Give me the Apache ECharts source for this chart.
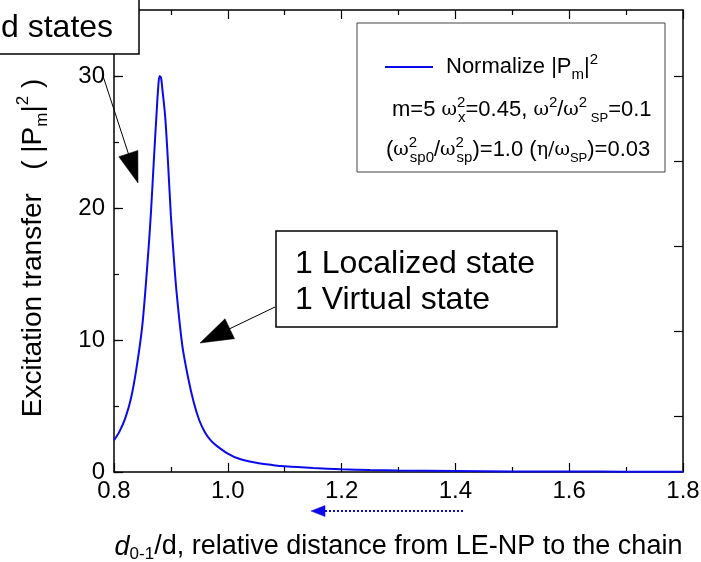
<!DOCTYPE html>
<html>
<head>
<meta charset="utf-8">
<script src="https://cdn.jsdelivr.net/npm/echarts@6/dist/echarts.min.js"></script>
<style>
html,body{margin:0;padding:0;background:#fff;}
#chart{width:701px;height:562px;}
</style>
</head>
<body>
<div id="chart"></div>
<script>
// ---- data ----
const xValues = [0.80,0.81,0.82,0.83,0.84,0.85,0.86,0.865,0.87,0.875,0.8775,0.88,0.8825,0.885,0.89,0.895,0.90,0.905,0.91,0.92,0.93,0.94,0.95,0.96,0.97,0.98,1.00,1.02,1.05,1.08,1.10,1.15,1.20,1.25,1.30,1.40,1.50,1.60,1.70,1.80];
const pmValues = [2.4,3.1,4.1,5.6,8.0,11.2,16.5,19.7,23.6,27.3,29.0,30.0,29.9,29.0,26.9,23.4,19.4,16.3,13.6,9.6,7.2,5.3,3.9,3.0,2.4,2.0,1.4,1.0,0.7,0.52,0.43,0.3,0.21,0.15,0.11,0.07,0.045,0.035,0.028,0.022];
const xTickLabels = ['0.8','1.0','1.2','1.4','1.6','1.8'];
const yTickValues = [0, 10, 20, 30];
const rightTickValues = [4.2, 10.65, 17.1, 23.55, 30];
const seriesName = 'Normalize |Pm|2';

const FONT = '"Liberation Sans", Arial, sans-serif';
const BLUE = '#0b0bea';
const chart = echarts.init(document.getElementById('chart'), null, {renderer: 'canvas'});

const seriesData = xValues.map((x, i) => [x, pmValues[i]]);

function arrow(x1, y1, x2, y2, headLen, headW, color, dashed, lw) {
  const dx = x2 - x1, dy = y2 - y1, L = Math.hypot(dx, dy);
  const ux = dx / L, uy = dy / L, px = -uy, py = ux;
  const bx = x2 - ux * headLen, by = y2 - uy * headLen;
  return [
    {type: 'line', z: 50, shape: {x1: x1, y1: y1, x2: bx + ux * 2, y2: by + uy * 2},
     style: {stroke: color, lineWidth: lw || 1, lineDash: dashed ? [2, 2] : null}},
    {type: 'polygon', z: 50, shape: {points: [[x2, y2], [bx + px * headW / 2, by + py * headW / 2], [bx - px * headW / 2, by - py * headW / 2]]},
     style: {fill: color, stroke: color, lineWidth: 0.5}}
  ];
}

const legRich = {
  t: {fontFamily: FONT, fontSize: 22, color: '#000', lineHeight: 30},
  w: {fontFamily: '"DejaVu Serif", serif', fontSize: 19, color: '#000', lineHeight: 30},
  sup: {fontFamily: FONT, fontSize: 15, color: '#000', verticalAlign: 'top', lineHeight: 16, width: 1},
  sup2: {fontFamily: FONT, fontSize: 15, color: '#000', verticalAlign: 'top', lineHeight: 16},
  sub: {fontFamily: FONT, fontSize: 15, color: '#000', verticalAlign: 'bottom', lineHeight: 16},
  subs: {fontFamily: FONT, fontSize: 13, color: '#000', verticalAlign: 'bottom', lineHeight: 14}
};

const graphics = [
  // "d states" box (clipped at page edge)
  {type: 'rect', z: 40, shape: {x: -5, y: -5, width: 144, height: 59}, style: {fill: '#fff', stroke: '#000', lineWidth: 1.5}},
  {type: 'text', z: 41, x: 1, y: 28, style: {text: 'd states', font: '32px ' + FONT, fill: '#000', textVerticalAlign: 'middle'}},
  // Localized / virtual box
  {type: 'rect', z: 40, shape: {x: 276, y: 231, width: 281, height: 96}, style: {fill: '#fff', stroke: '#000', lineWidth: 1.5}},
  {type: 'text', z: 41, x: 295, y: 264, style: {text: '1 Localized state', font: '32px ' + FONT, fill: '#000', textVerticalAlign: 'middle'}},
  {type: 'text', z: 41, x: 295, y: 300, style: {text: '1 Virtual state', font: '32px ' + FONT, fill: '#000', textVerticalAlign: 'middle'}},
  // legend frame
  {type: 'rect', z: 40, shape: {x: 357, y: 23, width: 308, height: 149}, style: {fill: '#fff', stroke: '#444', lineWidth: 1}},
  {type: 'text', z: 41, x: 392, y: 110, style: {
    text: '{t|m=5 }{w|ω}{sup|2}{sub|x}{t|=0.45, }{w|ω}{sup2|2}{t|/}{w|ω}{sup2|2}{subs| SP}{t|=0.1}',
    rich: legRich, textVerticalAlign: 'middle'}},
  {type: 'text', z: 41, x: 386, y: 150, style: {
    text: '{t|(}{w|ω}{sup|2}{sub|sp0}{t|/}{w|ω}{sup|2}{sub|sp}{t|)=1.0 (}{w|η/ω}{subs|SP}{t|)=0.03}',
    rich: legRich, textVerticalAlign: 'middle'}}
].concat(
  arrow(103, 76, 138, 183, 31, 20, '#000', false, 1),
  arrow(275, 307, 200, 343, 33, 22, '#000', false, 1),
  arrow(463, 511, 311, 511, 14, 11, BLUE, true, 2)
);

const option = {
  backgroundColor: '#fff',
  animation: false,
  textStyle: {fontFamily: FONT},
  grid: {left: 114, right: 18, top: 10, bottom: 90, containLabel: false, outerBoundsMode: 'none'},
  legend: {
    show: true, left: 385, top: 52, padding: 0, itemWidth: 48, itemHeight: 14, z: 45, itemGap: 0,
    icon: 'path://M0,6L48,6L48,8L0,8Z',
    itemStyle: {color: BLUE},
    data: [seriesName],
    formatter: () => '{t|Normalize |P}{sub|m}{t||}{sup2|2}',
    textStyle: {rich: legRich, padding: [0, 0, 0, 8]}
  },
  xAxis: [{
    type: 'value', position: 'bottom', min: 0.8, max: 1.8, interval: 0.2,
    axisLine: {show: true, onZero: false, lineStyle: {color: '#000', width: 1.5}},
    axisTick: {show: true, inside: true, length: 9, lineStyle: {color: '#000', width: 1.2}},
    minorTick: {show: true, splitNumber: 2, length: 5, lineStyle: {color: '#000', width: 1.2}},
    splitLine: {show: false},
    axisLabel: {color: '#000', fontSize: 24, fontFamily: FONT, margin: 7,
      formatter: (v) => xTickLabels[Math.round((v - 0.8) / 0.2)] || ''},
    name: '{i|d}{s|0-1}{n|/d, relative distance from LE-NP to the chain}',
    nameLocation: 'middle', nameGap: 59,
    nameTextStyle: {rich: {
      i: {fontFamily: FONT, fontStyle: 'italic', fontSize: 27, color: '#000', lineHeight: 32},
      s: {fontFamily: FONT, fontSize: 17, color: '#000', verticalAlign: 'bottom', lineHeight: 18},
      n: {fontFamily: FONT, fontSize: 27, color: '#000', lineHeight: 32}
    }}
  }, {
    type: 'value', position: 'top', min: 0.8, max: 1.8, interval: 0.2,
    axisLine: {show: true, onZero: false, lineStyle: {color: '#000', width: 1.5}},
    axisTick: {show: true, inside: true, length: 9, lineStyle: {color: '#000', width: 1.2}},
    minorTick: {show: true, splitNumber: 2, length: 5, lineStyle: {color: '#000', width: 1.2}},
    splitLine: {show: false}, axisLabel: {show: false}
  }],
  yAxis: [{
    type: 'value', position: 'left', min: 0, max: 35,
    axisLine: {show: true, onZero: false, lineStyle: {color: '#000', width: 1.5}},
    axisTick: {show: true, inside: true, length: 9, customValues: yTickValues, lineStyle: {color: '#000', width: 1.2}},
    splitLine: {show: false},
    axisLabel: {color: '#000', fontSize: 24, fontFamily: FONT, margin: 9, customValues: yTickValues},
    name: '{n|Excitation transfer   ( |P}{s|m}{n||}{p|2}{n| )}',
    nameLocation: 'middle', nameGap: 63, nameRotate: 90,
    nameTextStyle: {padding: [0, 14, 0, 0], rich: {
      n: {fontFamily: FONT, fontSize: 28, color: '#000', lineHeight: 36},
      s: {fontFamily: FONT, fontSize: 17, color: '#000', verticalAlign: 'bottom', lineHeight: 19},
      p: {fontFamily: FONT, fontSize: 17, color: '#000', verticalAlign: 'top', lineHeight: 19}
    }}
  }, {
    type: 'value', position: 'left', min: 0, max: 35, interval: 5,
    axisLine: {show: false},
    axisTick: {show: true, inside: true, length: 5, lineStyle: {color: '#000', width: 1.2}},
    splitLine: {show: false}, axisLabel: {show: false}
  }, {
    type: 'value', position: 'right', min: 0, max: 35,
    axisLine: {show: true, onZero: false, lineStyle: {color: '#000', width: 1.5}},
    axisTick: {show: true, inside: true, length: 9, customValues: rightTickValues, lineStyle: {color: '#000', width: 1.2}},
    splitLine: {show: false}, axisLabel: {show: false}
  }],
  series: [{
    name: seriesName, type: 'line', xAxisIndex: 0, yAxisIndex: 0,
    data: seriesData, showSymbol: false, smooth: 0.3,
    lineStyle: {color: BLUE, width: 2}, itemStyle: {color: BLUE}, z: 5
  }],
  graphic: graphics
};
chart.setOption(option);
</script>
</body>
</html>
